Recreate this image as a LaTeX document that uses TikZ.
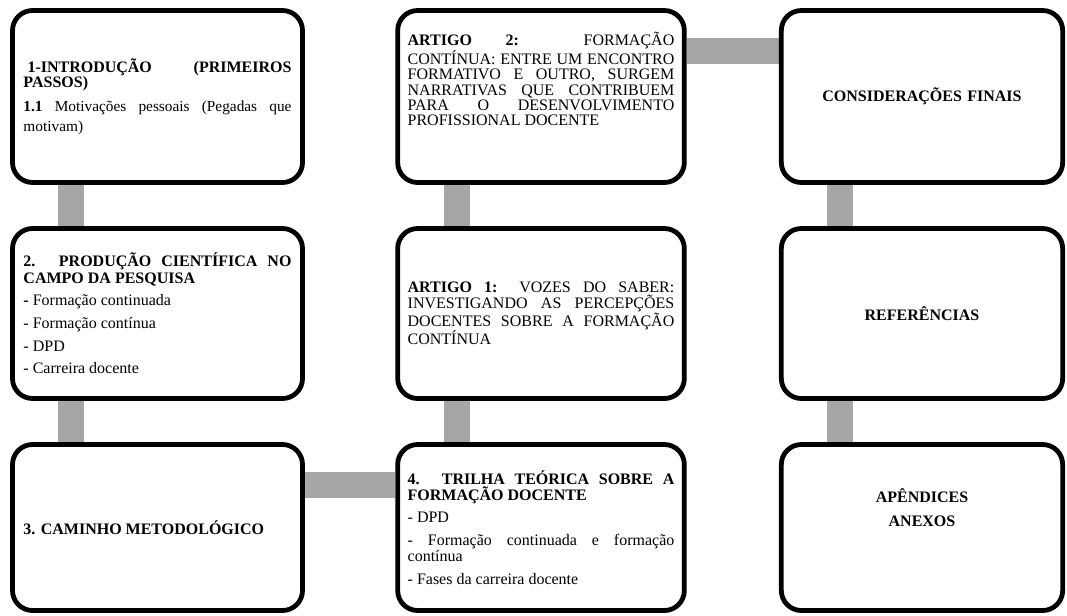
\documentclass[tikz,border=0pt]{standalone}
\usepackage{fontspec}
\setmainfont{Liberation Serif}
\usetikzlibrary{backgrounds}

\definecolor{linkgray}{HTML}{A6A6A6}
\tikzset{
  card/.style={draw, line width=3.6pt, rounded corners=15pt, fill=white,
    inner sep=0pt, align=justify, font=\fontsize{12}{12}\selectfont},
  wide/.style={minimum width=217.5pt, text width=201pt},
  mid/.style={minimum width=215pt, text width=200pt},
  narrow/.style={minimum width=211pt, text width=200pt, align=center},
  link/.style={draw=linkgray, line width=19.5pt},
}

\begin{document}
\begin{tikzpicture}[x=0.75pt,y=-0.75pt]
  \useasboundingbox (0,0) rectangle (1067,615);

  % first column
  \node[card, wide, minimum height=129pt] (intro) at (157.5,96.5)
    {\setlength\parskip{3pt}\fontsize{12}{11.5}\selectfont
     \hspace*{3pt}\textbf{1-INTRODUÇÃO (PRIMEIROS\linebreak PASSOS)}\par
     \fontsize{11.5}{15}\selectfont\textbf{1.1} Motivações pessoais (Pegadas que\linebreak motivam)\par
     \vspace*{-6pt}};
  \node[card, wide, minimum height=127.5pt] (prod) at (157.5,313.5)
    {\setlength\parskip{4.5pt}\fontsize{12}{12.5}\selectfont
     \textbf{2. PRODUÇÃO CIENTÍFICA NO\linebreak CAMPO DA PESQUISA}\par
     \textbf{-} Formação continuada\par
     - Formação contínua\par
     - DPD\par
     - Carreira docente\par};
  \node[card, wide, minimum height=124.5pt] (metod) at (157.5,527.5)
    {\textbf{3. CAMINHO METODOLÓGICO}\par};

  % second column
  \node[card, mid, minimum height=129pt] (art2) at (541,96.5)
    {\fontsize{12}{11.5}\selectfont
     \textbf{ARTIGO 2:} FORMAÇÃO\linebreak
     CONTÍNUA: ENTRE UM ENCONTRO\linebreak
     FORMATIVO E OUTRO, SURGEM\linebreak
     NARRATIVAS QUE CONTRIBUEM\linebreak
     PARA O DESENVOLVIMENTO\linebreak
     PROFISSIONAL DOCENTE\par
     \vspace{14pt}\mbox{}};
  \node[card, mid, minimum height=127.5pt] (art1) at (541,313.5)
    {\fontsize{12}{11.5}\selectfont
     \textbf{ARTIGO 1:} VOZES DO SABER:\linebreak
     INVESTIGANDO AS PERCEPÇÕES\linebreak
     DOCENTES SOBRE A FORMAÇÃO\linebreak
     CONTÍNUA\par};
  \node[card, mid, minimum height=124.5pt] (trilha) at (541,527.5)
    {\setlength\parskip{5pt}\fontsize{12}{12}\selectfont
     \textbf{4. TRILHA TEÓRICA SOBRE A\linebreak FORMAÇÃO DOCENTE}\par
     - DPD\par
     - Formação continuada e formação\linebreak contínua\par
     - Fases da carreira docente\par};

  % third column
  \node[card, narrow, minimum height=129pt] (consid) at (922,96.5)
    {\textbf{CONSIDERAÇÕES FINAIS}};
  \node[card, narrow, minimum height=127.5pt] (refs) at (922,313.5)
    {\textbf{REFERÊNCIAS}};
  \node[card, narrow, minimum height=124.5pt] (apend) at (922,527.5)
    {\fontsize{12}{18}\selectfont\textbf{APÊNDICES}\\\textbf{ANEXOS}\par
     \vspace{18pt}\mbox{}};

  \begin{scope}[on background layer]
    \draw[link] ([xshift=46pt]intro.south west) -- ([xshift=46pt]prod.north west);
    \draw[link] ([xshift=46pt]prod.south west) -- ([xshift=46pt]metod.north west);
    \draw[link] ([yshift=-32.5pt]metod.north east) -- ([yshift=-32.5pt]trilha.north west);
    \draw[link] ([xshift=46pt]trilha.north west) -- ([xshift=46pt]art1.south west);
    \draw[link] ([xshift=46pt]art1.north west) -- ([xshift=46pt]art2.south west);
    \draw[link] ([yshift=-32.5pt]art2.north east) -- ([yshift=-32.5pt]consid.north west);
    \draw[link] ([xshift=46pt]consid.south west) -- ([xshift=46pt]refs.north west);
    \draw[link] ([xshift=46pt]refs.south west) -- ([xshift=46pt]apend.north west);
  \end{scope}
\end{tikzpicture}
\end{document}
